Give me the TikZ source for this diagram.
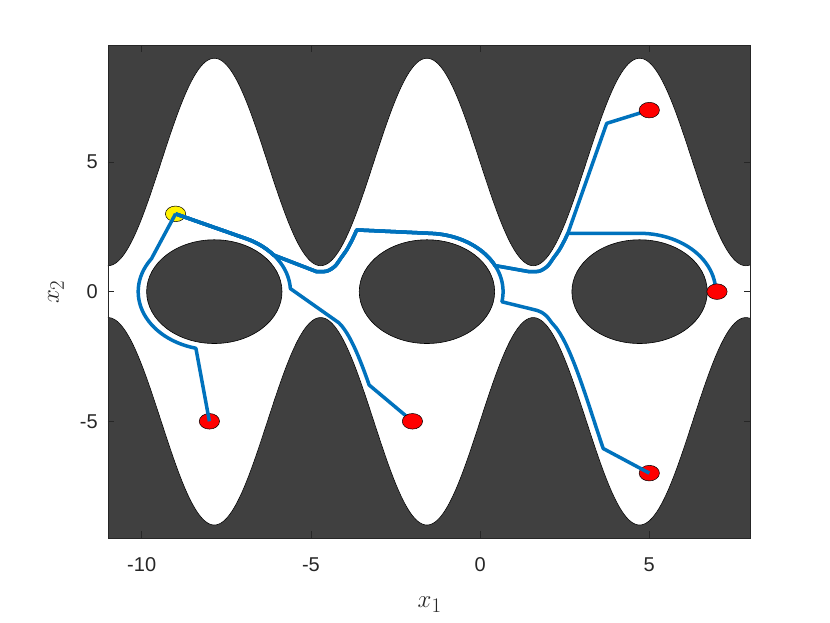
\documentclass[tikz,border=0pt]{standalone}
\usepackage{fontspec}
\setmainfont{Liberation Sans}
\usetikzlibrary{shapes.geometric}
\definecolor{obstc}{RGB}{64,64,64}
\definecolor{axc}{RGB}{38,38,38}
\definecolor{pathc}{rgb}{0,0.447,0.741}
\tikzset{
  traj/.style={draw=pathc, line width=3.5pt, line join=round},
  goalmk/.style={ellipse, draw=black, line width=0.5pt, fill=red, minimum width=20.3pt, minimum height=15.6pt, inner sep=0pt},
  startmk/.style={goalmk, fill=yellow},
  obst/.style={fill=obstc, draw=black, line width=0.6pt},
  edgeline/.style={draw=black, line width=0.6pt},
  tickmk/.style={draw=axc, line width=0.7pt},
  axline/.style={draw=axc, line width=0.7pt},
  ticklbl/.style={font=\fontsize{20}{24}\selectfont, text=axc, inner sep=0pt},
  axlbl/.style={font=\fontsize{28}{32}\selectfont, text=axc, inner sep=0pt},
}
\begin{document}
\begin{tikzpicture}[x=1pt,y=1pt]
\useasboundingbox (0,0) rectangle (830,623);
\begin{scope}[shift={(480.1,331.35)},x=33.84pt,y=25.93pt]
  % background obstacles
  \fill[obstc] (-11,-9.5) rectangle (8,9.5);
  \fill[white] plot[domain=-11:8,samples=400] (\x,{5-4*sin(\x r)})
     -- plot[domain=8:-11,samples=400] (\x,{-5+4*sin(\x r)}) -- cycle;
  \draw[edgeline] plot[domain=-11:8,samples=400] (\x,{5-4*sin(\x r)});
  \draw[edgeline] plot[domain=-11:8,samples=400] (\x,{-5+4*sin(\x r)});
  \foreach \c in {-7.854,-1.5708,4.7124}
    \draw[obst] (\c,0) ellipse [x radius=67.68pt, y radius=51.86pt];
  % markers below the trajectories
  \node[startmk] (s) at (-9,3) {};
  \node[goalmk] (g1) at (-8,-5) {};
  \node[goalmk] (g4) at (5,-7) {};
  \coordinate (t2) at (-2,-5);
  \coordinate (t3) at (7,0);
  \coordinate (t5) at (5,7);
  % trajectory 1 : to (-8,-5)
  \draw[traj] (s.center) -- (-9.72,1.25)
     -- plot[domain=146:256,samples=30] ({-7.854+2.25*cos(\x)},{2.25*sin(\x)})
     -- (g1.center);
  % trajectory 2 : to (-2,-5)
  \draw[traj] (s.center) -- (-6.918,2.046)
     -- plot[domain=65.4:3,samples=25] ({-7.854+2.25*cos(\x)},{2.25*sin(\x)})
     -- (-4.175,-1.2)
     -- plot[domain=-1.2:-3.6,samples=20] ({-4.7124+rad(acos((\x+5)/4))+0.22},\x)
     -- (t2);
  % trajectory 3 : to (7,0)
  \draw[traj] (s.center) -- (-6.918,2.046)
     -- plot[domain=65.4:38.8,samples=10] ({-7.854+2.25*cos(\x)},{2.25*sin(\x)})
     -- (-4.83,0.77)
     -- plot[smooth,tension=0.5] coordinates {(-4.83,0.77) (-4.53,0.79) (-4.29,0.98) (-4.11,1.3) (-3.947,1.6) (-3.779,2.0) (-3.646,2.38)}
     -- (-1.438,2.246)
     -- plot[domain=86.6:26.5,samples=20] ({-1.5708+2.25*cos(\x)},{2.25*sin(\x)})
     -- (1.45,0.77)
     -- plot[smooth,tension=0.5] coordinates {(1.45,0.77) (1.75,0.79) (1.99,0.98) (2.17,1.3) (2.336,1.6) (2.504,2.0) (2.594,2.25)}
     -- (4.7124,2.25)
     -- plot[domain=90:5,samples=25] ({4.7124+2.25*cos(\x)},{2.25*sin(\x)})
     -- (t3);
  % trajectory 4 : to (5,7)
  \draw[traj] (s.center) -- (-6.918,2.046)
     -- plot[domain=65.4:38.8,samples=10] ({-7.854+2.25*cos(\x)},{2.25*sin(\x)})
     -- (-4.83,0.77)
     -- plot[smooth,tension=0.5] coordinates {(-4.83,0.77) (-4.53,0.79) (-4.29,0.98) (-4.11,1.3) (-3.947,1.6) (-3.779,2.0) (-3.646,2.38)}
     -- (-1.438,2.246)
     -- plot[domain=86.6:26.5,samples=20] ({-1.5708+2.25*cos(\x)},{2.25*sin(\x)})
     -- (1.45,0.77)
     -- plot[smooth,tension=0.5] coordinates {(1.45,0.77) (1.75,0.79) (1.99,0.98) (2.17,1.3) (2.336,1.6) (2.504,2.0) (2.594,2.25)}
     -- (3.741,6.49) -- (t5);
  % trajectory 5 : to (5,-7)
  \draw[traj] (s.center) -- (-6.918,2.046)
     -- plot[domain=65.4:38.8,samples=10] ({-7.854+2.25*cos(\x)},{2.25*sin(\x)})
     -- (-4.83,0.77)
     -- plot[smooth,tension=0.5] coordinates {(-4.83,0.77) (-4.53,0.79) (-4.29,0.98) (-4.11,1.3) (-3.947,1.6) (-3.779,2.0) (-3.646,2.38)}
     -- (-1.438,2.246)
     -- plot[domain=86.6:-10,samples=30] ({-1.5708+2.25*cos(\x)},{2.25*sin(\x)})
     -- (1.673,-0.72)
     -- plot[smooth,tension=0.5] coordinates {(1.673,-0.72) (1.82,-0.80) (1.97,-0.95) (2.118,-1.2)}
     -- plot[domain=-1.2:-6.05,samples=25] ({1.5708+rad(acos((\x+5)/4))+0.23},\x)
     -- (g4.center);
  % markers above the trajectories
  \node[goalmk] (g2) at (t2) {};
  \node[goalmk] (g3) at (t3) {};
  \node[goalmk] (g5) at (t5) {};
  % ticks and box
  \foreach \t in {-10,-5,0,5} {
    \draw[tickmk] (\t,-9.5) -- ++(0pt,6.5pt);
    \draw[tickmk] (\t,9.5) -- ++(0pt,-6.5pt);
    \node[ticklbl, anchor=base] (xl\t) at ([yshift=-34pt]\t,-9.5) {\t};
  }
  \foreach \t in {-5,0,5} {
    \draw[tickmk] (-11,\t) -- ++(6.5pt,0pt);
    \draw[tickmk] (8,\t) -- ++(-6.5pt,0pt);
    \node[ticklbl, anchor=east] (yl\t) at ([xshift=-10pt]-11,\t) {\t};
  }
  \draw[axline] (-11,-9.5) rectangle (8,9.5);
\end{scope}
\node[axlbl] (xlab) at (429.6,18) {$x_1$};
\node[axlbl, rotate=90] (ylab) at (56,331) {$x_2$};
\end{tikzpicture}
\end{document}
